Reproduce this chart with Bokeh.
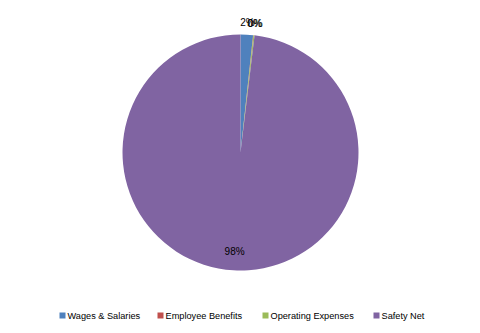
import math
from bokeh.plotting import figure
from bokeh.models import ColumnDataSource, Range1d
from bokeh.core.properties import value
from bokeh.embed import file_html
from bokeh.resources import INLINE

categories = ["Wages & Salaries", "Employee Benefits", "Operating Expenses", "Safety Net"]
values = [1.7, 0.05, 0.15, 98.1]
labels = ["2%", "0%", "0%", "98%"]
colors = ["#4F81BD", "#C0504D", "#9BBB59", "#8064A2"]

W, H = 480, 333
cx, cy, R = 240, H - 152, 118

total = sum(values)
starts, ends, lx, ly = [], [], [], []
acc = 0.0
for i, v in enumerate(values):
    a0 = math.pi / 2 - 2 * math.pi * acc / total
    a1 = math.pi / 2 - 2 * math.pi * (acc + v) / total
    starts.append(a0)
    ends.append(a1)
    mid = (a0 + a1) / 2
    frac = v / total
    r = R * 1.1 if frac < 0.1 else R * 0.84
    lx.append(cx + r * math.cos(mid))
    ly.append(cy + r * math.sin(mid))
    acc += v

src = ColumnDataSource(dict(start=starts, end=ends, color=colors, cat=categories))

p = figure(width=W, height=H, output_backend="svg", toolbar_location=None,
           x_range=Range1d(0, W), y_range=Range1d(0, H), min_border=0)
p.axis.visible = False
p.grid.visible = False
p.outline_line_color = None
p.background_fill_color = "white"

p.wedge(x=cx, y=cy, radius=R, start_angle="start", end_angle="end", direction="clock",
        fill_color="color", line_color=None, source=src)

p.text(x=lx, y=ly, text=labels, text_align="center", text_baseline="middle",
       text_font=value("Liberation Sans"), text_font_size="10px", text_color="#000000")

# legend
leg_x = [62, 160, 265, 376]
leg_y = H - 315
p.rect(x=leg_x, y=[leg_y] * 4, width=6, height=6, fill_color=colors, line_color=None)
p.text(x=[x + 5 for x in leg_x], y=[leg_y] * 4, text=categories, text_align="left",
       text_baseline="middle", text_font=value("Liberation Sans"), text_font_size="9.2px",
       text_color="#000000")

open("out.html", "w").write(file_html(p, INLINE))
